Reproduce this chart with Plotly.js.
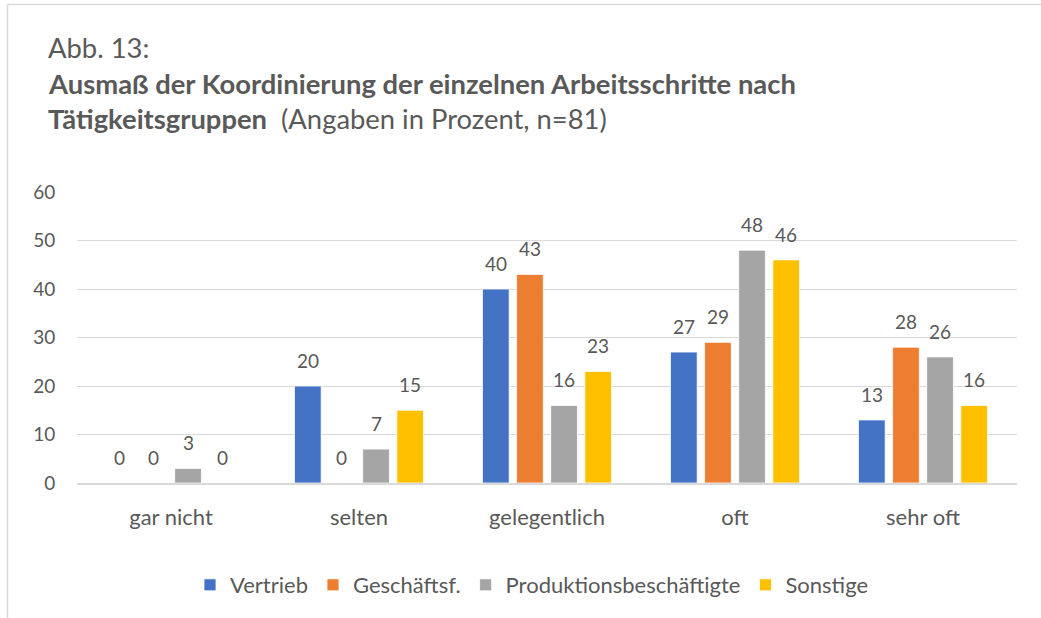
<!DOCTYPE html>
<html>
<head>
<meta charset="utf-8">
<script src="https://cdn.plot.ly/plotly-3.0.1.min.js"></script>
<style>html,body{margin:0;padding:0;background:#fff;}#chart{width:1041px;height:618px;}</style>
</head>
<body>
<div id="chart"></div>
<script>
const categories = ["gar nicht", "selten", "gelegentlich", "oft", "sehr oft"];
const seriesNames = ["Vertrieb", "Geschäftsf.", "Produktionsbeschäftigte", "Sonstige"];
const vertrieb = [0, 20, 40, 27, 13];
const geschaeftsf = [0, 0, 43, 29, 28];
const produktion = [3, 7, 16, 48, 26];
const sonstige = [0, 15, 23, 46, 16];
const yTicks = [0, 10, 20, 30, 40, 50, 60];
const colors = ["#4472C4", "#ED7D31", "#A5A5A5", "#FFC000"];
const titleLine1 = "Abb. 13:";
const titleLine2 = "<b>Ausmaß der Koordinierung der einzelnen Arbeitsschritte nach</b>";
const titleLine3 = "<b>Tätigkeitsgruppen</b>  (Angaben in Prozent, n=81)";

const FONT = "Lato, 'Open Sans', sans-serif";
const TXT = "#595959";
const allValues = [vertrieb, geschaeftsf, produktion, sonstige];

const traces = allValues.map((vals, i) => ({
  type: "bar",
  name: seriesNames[i],
  x: categories,
  y: vals,
  marker: {color: colors[i], line: {color: "#ffffff", width: 0.8}},
  hoverinfo: "x+y+name"
}));

// plot area in pixels
const L = 77, R = 1017, T = 192, B = 483, W = 1041, H = 618;
const px = v => (v - L) / (R - L);
const py = v => (B - v) / (B - T);
const slot = 34.1; // pixel width of one bar slot inside a group

// data labels placed through the axes at each bar's (category, value)
const labelAnnotations = [];
allValues.forEach((vals, i) => {
  vals.forEach((v, j) => {
    labelAnnotations.push({
      x: categories[j], y: v, xref: "x", yref: "y",
      text: String(v), showarrow: false,
      xanchor: "center", yanchor: "bottom",
      xshift: (i - 1.5) * slot, yshift: 12,
      font: {family: FONT, size: 19, color: TXT}
    });
  });
});

const layout = {
  width: W, height: H,
  margin: {l: L, r: W - R, t: T, b: H - B, pad: 0},
  paper_bgcolor: "#ffffff",
  plot_bgcolor: "#ffffff",
  font: {family: FONT, color: TXT, size: 19},
  barmode: "group",
  bargap: 0.274,
  bargroupgap: 0.217,
  showlegend: true,
  legend: {
    orientation: "h",
    x: px(532), xanchor: "center",
    y: py(585), yanchor: "middle",
    font: {family: FONT, size: 22, color: TXT},
    itemwidth: 30,
    traceorder: "normal"
  },
  xaxis: {
    type: "category",
    showgrid: false,
    showline: true,
    linecolor: "#d9d9d9",
    linewidth: 1.5,
    ticks: "outside",
    ticklen: 14,
    tickcolor: "rgba(0,0,0,0)",
    tickfont: {family: FONT, size: 22, color: TXT},
    zeroline: false
  },
  yaxis: {
    range: [0, 60],
    tickvals: yTicks,
    showgrid: true,
    gridcolor: "#d9d9d9",
    gridwidth: 1,
    zeroline: false,
    showline: false,
    ticks: "outside",
    ticklen: 17,
    tickcolor: "rgba(0,0,0,0)",
    tickfont: {family: FONT, size: 19, color: TXT}
  },
  annotations: [
    {text: titleLine1, xref: "paper", yref: "paper", x: px(46), y: py(47), xanchor: "left", yanchor: "middle", showarrow: false, font: {family: FONT, size: 27.4, color: TXT}},
    {text: titleLine2, xref: "paper", yref: "paper", x: px(46), y: py(83), xanchor: "left", yanchor: "middle", showarrow: false, font: {family: FONT, size: 27.4, color: TXT}},
    {text: titleLine3, xref: "paper", yref: "paper", x: px(46), y: py(118), xanchor: "left", yanchor: "middle", showarrow: false, font: {family: FONT, size: 27.4, color: TXT}}
  ].concat(labelAnnotations),
  shapes: [
    {type: "line", xref: "paper", yref: "paper", x0: px(7.5), x1: px(7.5), y0: py(4.5), y1: py(640), line: {color: "#d9d9d9", width: 1.5}},
    {type: "line", xref: "paper", yref: "paper", x0: px(7.5), x1: px(1060), y0: py(4.5), y1: py(4.5), line: {color: "#d9d9d9", width: 1.5}}
  ]
};

Plotly.newPlot("chart", traces, layout, {displayModeBar: false, responsive: false});
</script>
</body>
</html>
